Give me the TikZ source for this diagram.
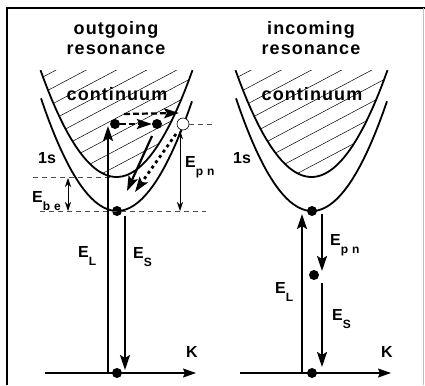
\documentclass[tikz,border=0pt]{standalone}
\usepackage{fontspec}
\setmainfont{Liberation Sans}
\usetikzlibrary{arrows.meta}

% energy label with a hanging subscript
\newcommand{\esub}[1]{E\raisebox{-8pt}{\fontsize{12}{12}\selectfont #1}}

\begin{document}
\begin{tikzpicture}[x=1pt, y=-1pt,
    font=\bfseries\fontsize{16}{16}\selectfont,
    curve/.style={line width=1.8pt},
    hatch/.style={line width=0.5pt},
    dot/.style={circle, fill=black, inner sep=0pt, minimum size=10pt},
    hole/.style={circle, draw, line width=0.6pt, fill=white, inner sep=0pt, minimum size=12pt},
    bigarrow/.style={line width=2.2pt, -{Stealth[length=15pt,width=10pt,inset=3pt]}},
    dasharrow/.style={bigarrow, dash pattern=on 6pt off 3pt},
    dotarrow/.style={bigarrow, line width=2.8pt, dash pattern=on 3pt off 3.5pt},
    thinarrow/.style={line width=0.6pt, {Stealth[length=9pt,width=6pt]}-{Stealth[length=9pt,width=6pt]}},
    axisarrow/.style={line width=1.4pt, -{Stealth[length=13pt,width=9pt,inset=2pt]}},
    guide/.style={line width=0.5pt, black!70, dash pattern=on 5pt off 4pt},
    label/.style={anchor=base west, inner sep=0pt},
    title/.style={anchor=base, inner sep=0pt,
        font=\bfseries\fontsize{18}{18}\selectfont\addfontfeature{LetterSpace=6}}]
\useasboundingbox (0,0) rectangle (425,385);

% Parameters
\def\upa{0.0185}
\def\lowa{0.0195}

% frame
\draw[line width=1.6pt] (7,385) -- (7,8) -- (425,8);
\draw[line width=0.4pt, black!25] (423,8) -- (423,385);

% both panels share the bands, hatching and axis
\foreach \p/\title/\side in {0/outgoing/out, 195/incoming/in} {
    \begin{scope}[shift={(\p,0)}]
        % hatched continuum
        \begin{scope}
            \clip plot[domain=-76:76, samples=40] ({116.5+\x}, {177-\upa*\x*\x}) -- cycle;
            \foreach \c in {22,38,...,190} {
                \draw[hatch] (30, {\c+0.53*86.5}) -- (205, {\c-0.53*88.5});
            }
        \end{scope}
        \draw[curve] plot[domain=-76:76, samples=40] ({116.5+\x}, {177-\upa*\x*\x});
        \draw[curve] plot[domain=-76:75, samples=40] ({117+\x}, {211-\lowa*\x*\x});

        % texts
        \node[title] (head-\side) at (116,35) {\title};
        \node[title] (res-\side) at (116,55) {resonance};
        \node[title] (cont-\side) at (117,100) {continuum};
        \node[label] (ones-\side) at (38,163) {1s};

        % K axis
        \node[dot] (bot-\side) at (117,211) {};
        \node[dot] (gnd-\side) at (117,373) {};
        \coordinate (kfrom-\side) at (45,373);
        \coordinate (kto-\side) at (196,373);
        \draw[axisarrow] (kfrom-\side) -- (kto-\side);
        \node[label] (k-\side) at (186,357) {K};
    \end{scope}
}

% outgoing resonance
\node[dot] (a) at (115,124) {};
\node[dot] (b) at (157,124) {};
\node[hole] (c) at (183,124) {};
\coordinate (elfoot) at (108,373);
\coordinate (elhead) at (108,126);
\coordinate (estop) at (125,216);
\coordinate (esend) at (125,370);
\coordinate (hopfrom) at (124,114);
\coordinate (hopto) at (179,113);
\coordinate (relfrom) at (152,136);
\coordinate (relto) at (127,191);
\coordinate (dotfrom) at (176,134);
\coordinate (dotto) at (135,192);
\coordinate (pnlow) at (180,211);
\coordinate (betop) at (68,178);
\coordinate (below) at (68,211);

\draw[guide] (33,177) -- (110,177);
\draw[guide] (40,211) -- (206,211);
\draw[guide] (c.east) -- (212,124);

\draw[bigarrow] (elfoot) -- (elhead);
\draw[bigarrow] (estop) -- (esend);
\draw[dasharrow] (a) -- (b);
\draw[dasharrow] (hopfrom) -- (hopto);
\draw[bigarrow] (relfrom) -- (relto);
\draw[dotarrow] (dotfrom) -- (dotto);
\draw[thinarrow] (c.south -| pnlow) -- (pnlow);
\draw[thinarrow] (betop) -- (below);

\node[label] (el-out) at (78,257) {\esub{L}};
\node[label] (es-out) at (133,258) {\esub{S}};
\node[label] (epn-out) at (185,167) {\esub{p\hspace{4pt}n}};
\node[label] (ebe) at (32,202) {\esub{b\hspace{4pt}e}};

% incoming resonance
\node[dot] (mid) at (314,275) {};
\coordinate (inlfoot) at (302,373);
\coordinate (inlhead) at (302,214);
\coordinate (inpn) at (322,214);
\coordinate (inpnend) at (322,271);
\coordinate (ins) at (322,283);
\coordinate (insend) at (322,367);

\draw[bigarrow] (inlfoot) -- (inlhead);
\draw[bigarrow] (inpn) -- (inpnend);
\draw[bigarrow] (ins) -- (insend);

\node[label] (el-in) at (275,293) {\esub{L}};
\node[label] (epn-in) at (330,245) {\esub{p\hspace{4pt}n}};
\node[label] (es-in) at (332,320) {\esub{S}};
\end{tikzpicture}
\end{document}
